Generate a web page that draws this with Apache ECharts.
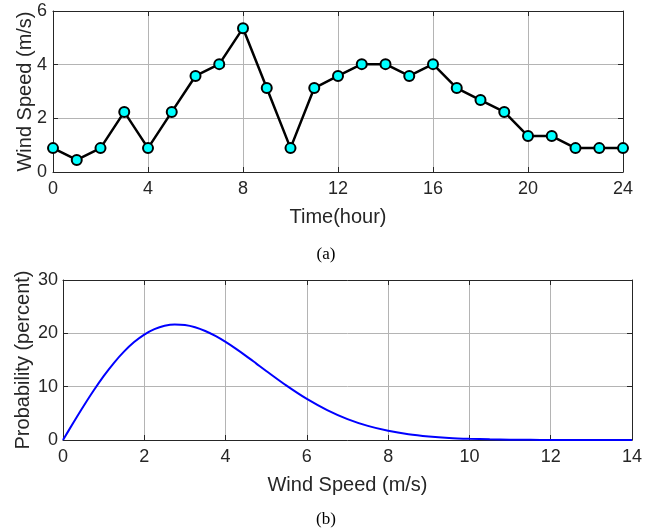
<!DOCTYPE html>
<html>
<head>
<meta charset="utf-8">
<script src="https://cdn.jsdelivr.net/npm/echarts@6/dist/echarts.min.js"></script>
<style>html,body{margin:0;padding:0;background:#fff;}#c{width:654px;height:531px;}</style>
</head>
<body>
<div id="c"></div>
<script>
// (a) hourly wind speed
var hours = [0,1,2,3,4,5,6,7,8,9,10,11,12,13,14,15,16,17,18,19,20,21,22,23,24];
var windSpeed = [0.89,0.45,0.89,2.24,0.89,2.24,3.58,4.02,5.36,3.13,0.89,3.13,3.58,4.02,4.02,3.58,4.02,3.13,2.68,2.24,1.34,1.34,0.89,0.89,0.89];
var hourTicks = [0,4,8,12,16,20,24];
var speedTicks = [0,2,4,6];
// (b) probability distribution
var speedBins = [0,0.25,0.5,0.75,1,1.25,1.5,1.75,2,2.25,2.5,2.75,3,3.25,3.5,3.75,4,4.25,4.5,4.75,5,5.5,6,6.5,7,7.5,8,8.5,9,9.5,10,10.5,11,11.5,12,12.5,13,13.5,14];
var probability = [0,3.18,6.28,9.23,11.97,14.43,16.57,18.36,19.77,20.78,21.41,21.66,21.56,21.14,20.44,19.51,18.39,17.13,15.78,14.37,12.95,10.19,7.70,5.61,3.92,2.65,1.73,1.08,0.66,0.38,0.22,0.12,0.06,0.03,0.01,0,0,0,0];
var windTicks = [0,2,4,6,8,10,12,14];
var probTicks = [0,10,20,30];

var txt = '#262626';
var font = 'Liberation Sans, Arial, sans-serif';
function mainX(gi, min, max, interval, name) {
  return {
    type: 'value', gridIndex: gi, min: min, max: max, interval: interval,
    name: name, nameLocation: 'middle', nameGap: 35, nameMoveOverlap: false,
    nameTextStyle: {color: txt, fontSize: 20, fontFamily: font},
    axisLine: {show: true, onZero: false, lineStyle: {color: txt, width: 1}},
    axisTick: {show: true, inside: true, length: 5, lineStyle: {color: txt}},
    axisLabel: {color: txt, fontSize: 18, fontFamily: font, margin: 8},
    splitLine: {show: true, lineStyle: {color: '#b4b4b4', width: 1}}
  };
}
function mainY(gi, min, max, interval, name, gap, lm) {
  return {
    type: 'value', gridIndex: gi, min: min, max: max, interval: interval,
    name: name, nameLocation: 'middle', nameGap: gap, nameMoveOverlap: false,
    nameTextStyle: {color: txt, fontSize: 20, fontFamily: font},
    axisLine: {show: true, onZero: false, lineStyle: {color: txt, width: 1}},
    axisTick: {show: true, inside: true, length: 5, lineStyle: {color: txt}},
    axisLabel: {color: txt, fontSize: 18, fontFamily: font, margin: lm},
    splitLine: {show: true, lineStyle: {color: '#b4b4b4', width: 1}}
  };
}
function boxAxis(gi, pos, min, max, interval) {
  return {
    type: 'value', gridIndex: gi, position: pos, min: min, max: max, interval: interval,
    axisLine: {show: true, onZero: false, lineStyle: {color: txt, width: 1}},
    axisTick: {show: true, inside: true, length: 5, lineStyle: {color: txt}},
    axisLabel: {show: false}, splitLine: {show: false}
  };
}

var chart = echarts.init(document.getElementById('c'), null, {renderer: 'canvas'});
chart.setOption({
  animation: false,
  backgroundColor: '#fff',
  title: [
    {text: '(a)', left: 321, top: 241, textAlign: 'center', textStyle: {fontFamily: 'Liberation Serif, Times New Roman, serif', fontWeight: 'normal', fontSize: 17, color: '#000'}},
    {text: '(b)', left: 321, top: 506, textAlign: 'center', textStyle: {fontFamily: 'Liberation Serif, Times New Roman, serif', fontWeight: 'normal', fontSize: 17, color: '#000'}}
  ],
  grid: [
    {left: 53, right: 31, top: 11, height: 161},
    {left: 63, right: 22, top: 280, height: 160}
  ],
  xAxis: [
    mainX(0, hourTicks[0], hourTicks[hourTicks.length-1], 4, 'Time(hour)'),
    boxAxis(0, 'top', 0, 24, 4),
    mainX(1, windTicks[0], windTicks[windTicks.length-1], 2, 'Wind Speed (m/s)'),
    boxAxis(1, 'top', 0, 14, 2)
  ],
  yAxis: [
    mainY(0, speedTicks[0], speedTicks[speedTicks.length-1], 2, 'Wind Speed (m/s)', 18, 6),
    boxAxis(0, 'right', 0, 6, 2),
    mainY(1, probTicks[0], probTicks[probTicks.length-1], 10, 'Probability (percent)', 30, 5),
    boxAxis(1, 'right', 0, 30, 10)
  ],
  series: [
    {
      type: 'line', xAxisIndex: 0, yAxisIndex: 0,
      data: hours.map(function(h, i){ return [h, windSpeed[i]]; }),
      symbol: 'circle', symbolSize: 10,
      lineStyle: {color: '#000', width: 2.5},
      itemStyle: {color: '#00ffff', borderColor: '#000', borderWidth: 2},
      z: 3
    },
    {
      type: 'line', xAxisIndex: 2, yAxisIndex: 2,
      data: speedBins.map(function(s, i){ return [s, probability[i]]; }),
      symbol: 'none', smooth: 0.3,
      lineStyle: {color: '#0000ff', width: 2},
      z: 3
    }
  ]
});
</script>
</body>
</html>
